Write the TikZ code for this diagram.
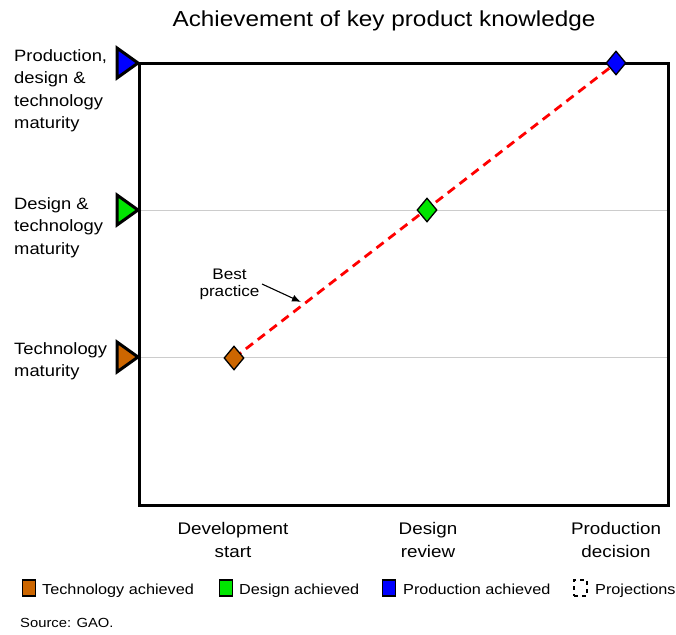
\documentclass[tikz,border=0pt]{standalone}
\usepackage{fontspec}
\setmainfont{Liberation Sans}[FakeStretch=1.12]
\usetikzlibrary{%
  arrows.meta,%
  backgrounds,%
  shapes.geometric%
}
\definecolor{techbrown}{RGB}{204,102,0}
\definecolor{desgreen}{RGB}{0,230,0}
\definecolor{prodblue}{RGB}{0,0,255}
\tikzset{
  marker/.style={draw,line width=3pt,line join=miter},
  milestone/.style={diamond,draw,line width=1.3pt,inner sep=0pt,
    minimum width=20pt,minimum height=24pt},
  lefttext/.style={align=left,anchor=north west,inner sep=0pt,
    font=\fontsize{16.4}{22.6}\selectfont},
  axistext/.style={align=center,anchor=north,inner sep=0pt,
    font=\fontsize{16.8}{23}\selectfont},
  legendbox/.style={draw,line width=1.5pt,minimum width=13pt,
    minimum height=16pt,inner sep=0pt},
  legendtext/.style={anchor=base west,inner sep=0pt,
    font=\fontsize{14.5}{18}\selectfont}
}
\begin{document}
\begin{tikzpicture}[x=1pt,y=-1pt]
  \useasboundingbox (0,0) rectangle (676,634);
  % title
  \node[font=\fontsize{21.7}{26}\selectfont] (title) at (384,21)
  {Achievement of key product knowledge};
  % grid and frame
  \draw[gray!40,line width=1pt] (139,210) -- (668,210);
  \draw[gray!40,line width=1pt] (139,357) -- (668,357);
  \draw[line width=3pt] (139,63) rectangle (668,505);
  % level markers
  \draw[marker,fill=prodblue] (117,48) -- (117,78) -- (138,63) -- cycle;
  \draw[marker,fill=desgreen] (117,195) -- (117,225) -- (138,210) -- cycle;
  \draw[marker,fill=techbrown] (117,342) -- (117,372) -- (138,357) -- cycle;
  \node[lefttext] (lvlprod) at (14,49)
  {Production,\\design \&\\technology\\maturity};
  \node[lefttext] (lvldes) at (14,197)
  {Design \&\\technology\\maturity};
  \node[lefttext] (lvltech) at (14,342) {Technology\\maturity};
  % milestones
  \node[milestone,fill=techbrown] (devstart) at (234,358) {};
  \node[milestone,fill=desgreen] (desreview) at (427,210) {};
  \node[milestone,fill=prodblue] (proddec) at (616,63) {};
  \begin{pgfonlayer}{background}
    \draw[red,line width=2.8pt,dash pattern=on 9pt off 6pt]
    (devstart.center) -- (proddec.center);
  \end{pgfonlayer}
  % best practice
  \node[align=center,inner sep=0pt,font=\fontsize{15.3}{17}\selectfont]
  (best) at (229.5,284) {Best\\practice};
  \coordinate (bestpt) at (301,302);
  \draw[-{Latex[length=9pt,width=7pt]},line width=1.1pt] (262,284) -- (bestpt);
  % x labels
  \node[axistext] (xdev) at (233,522) {Development\\start};
  \node[axistext] (xdes) at (428,522) {Design\\review};
  \node[axistext] (xprod) at (616,522) {Production\\decision};
  % legend
  \node[legendbox,fill=techbrown] (legtech) at (29,588) {};
  \node[legendtext] at (42,594) {Technology achieved};
  \node[legendbox,fill=desgreen] (legdes) at (226,588) {};
  \node[legendtext] at (239,594) {Design achieved};
  \node[legendbox,fill=prodblue] (legprod) at (389,588) {};
  \node[legendtext] at (403,594) {Production achieved};
  \node[legendbox,line width=2.2pt,dash pattern=on 4pt off 4pt] (legproj) at (580.5,588) {};
  \node[legendtext] at (595,594) {Projections};
  \node[anchor=base west,inner sep=0pt,font=\fontsize{13.2}{16}\selectfont]
  (source) at (20,627) {Source: GAO.};
\end{tikzpicture}
\end{document}
